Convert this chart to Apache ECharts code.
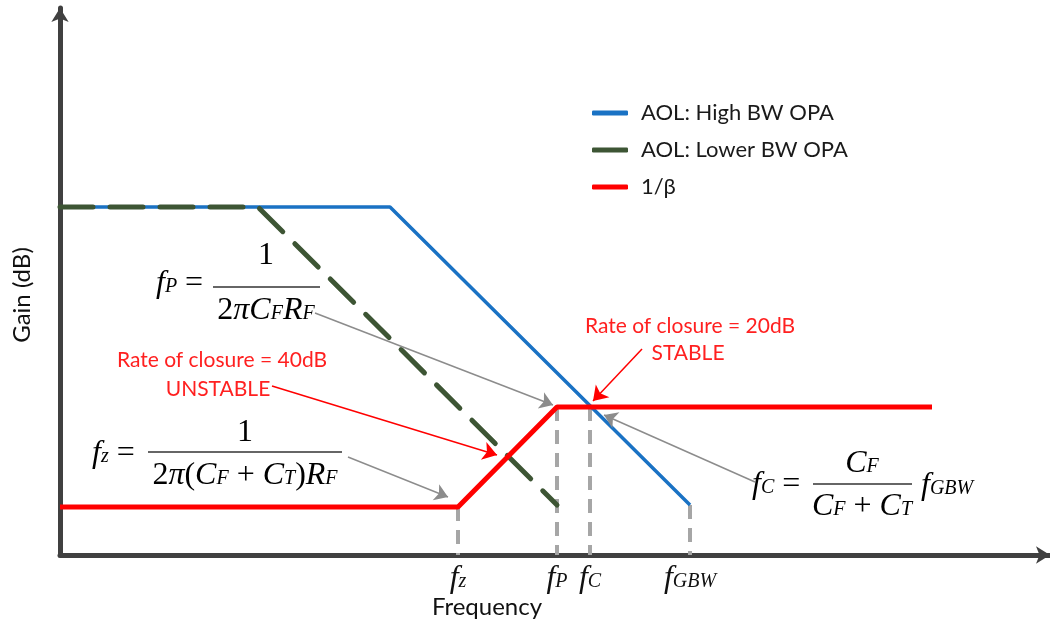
<!DOCTYPE html>
<html>
<head>
<meta charset="utf-8">
<script src="https://cdn.jsdelivr.net/npm/echarts@6/dist/echarts.min.js"></script>
<style>
  html, body { margin: 0; padding: 0; background: #fff; }
  #main { width: 1050px; height: 623px; }
</style>
</head>
<body>
<div id="main"></div>
<script>
// schematic units: x = log frequency, y = gain (origin at the axes corner)
const blueX = [0, 330, 630];
const blueY = [348, 348, 50];
const greenX = [0, 198, 497];
const greenY = [348, 348, 50];
const redX = [0, 398, 497, 872];
const redY = [48, 48, 148, 148];

// frequency marks on the x axis and where their drop lines start
const markX = [398, 497, 530, 630];
const markTop = [48, 148, 148, 50];
const markSub = ['z', 'P', 'C', 'GBW'];

// annotation arrows [x1, y1, x2, y2]
const grayArrows = [
  [255, 242, 493, 150],
  [288, 98, 388, 58],
  [695, 73, 544, 140]
];
const redArrows = [
  [212, 169, 437, 100],
  [582, 206, 533, 154]
];

const pairs = (xs, ys) => xs.map((x, i) => [x, ys[i]]);

const chart = echarts.init(document.getElementById('main'));

const serif = '"Liberation Serif", "DejaVu Serif", serif';
const mathRich = {
  i: { fontFamily: serif, fontStyle: 'italic', fontSize: 32, color: '#111', lineHeight: 34 },
  n: { fontFamily: serif, fontSize: 32, color: '#111', lineHeight: 34 },
  s: { fontFamily: serif, fontStyle: 'italic', fontSize: 20, color: '#111', lineHeight: 34, verticalAlign: 'bottom', padding: [0, 0, 4, 0] }
};

function mathText(x, y, text, align) {
  return {
    type: 'text', x: x, y: y, z: 10,
    style: { text: text, rich: mathRich, align: align || 'left', verticalAlign: 'middle' }
  };
}
function fracLine(x1, x2, y) {
  return { type: 'line', z: 10, shape: { x1: x1, y1: y, x2: x2, y2: y }, style: { stroke: '#333', lineWidth: 1.5 } };
}
function redText(x, y, text) {
  return {
    type: 'text', x: x, y: y, z: 10,
    style: { text: text, fill: '#ff2020', fontFamily: 'Lato', fontSize: 21, align: 'center', verticalAlign: 'middle' }
  };
}

chart.setOption({
  animation: false,
  grid: { left: 60, right: 0, top: 8, bottom: 68 },
  legend: {
    orient: 'vertical',
    left: 587,
    top: 97,
    itemWidth: 36,
    itemHeight: 5,
    itemGap: 15,
    icon: 'roundRect',
    textStyle: { fontFamily: 'Lato', fontSize: 22, color: '#1a1a1a', padding: [0, 0, 0, 8] },
    data: ['AOL: High BW OPA', 'AOL: Lower BW OPA', '1/β']
  },
  xAxis: {
    type: 'value', min: 0, max: 990,
    splitLine: { show: false },
    axisTick: { show: false },
    axisLine: { lineStyle: { color: '#404040', width: 5 }, symbol: ['none', 'arrow'], symbolSize: [13, 14] },
    axisLabel: {
      customValues: markX,
      margin: 7,
      formatter: function (v) {
        const k = markX.indexOf(v);
        return '{i|f}{s|' + markSub[k] + '}';
      },
      rich: mathRich
    }
  },
  yAxis: {
    type: 'value', min: 0, max: 547,
    splitLine: { show: false },
    axisTick: { show: false },
    axisLabel: { show: false },
    axisLine: { lineStyle: { color: '#404040', width: 5 }, symbol: ['none', 'arrow'], symbolSize: [13, 14] }
  },
  series: [
    {
      name: 'AOL: High BW OPA', type: 'line', showSymbol: false, z: 2,
      data: pairs(blueX, blueY),
      itemStyle: { color: '#1a72c4' },
      lineStyle: { color: '#1a72c4', width: 3.5 }
    },
    {
      name: 'AOL: Lower BW OPA', type: 'line', showSymbol: false, z: 3,
      data: pairs(greenX, greenY),
      itemStyle: { color: '#3d5534' },
      lineStyle: { color: '#3d5534', width: 5, type: [33, 17], cap: 'round' }
    },
    {
      name: '1/β', type: 'line', showSymbol: false, z: 4,
      data: pairs(redX, redY),
      itemStyle: { color: '#ff0000' },
      lineStyle: { color: '#ff0000', width: 5 }
    },
    {
      type: 'lines', coordinateSystem: 'cartesian2d', z: 1,
      data: markX.map((x, i) => ({ coords: [[x, markTop[i]], [x, 0]] })),
      lineStyle: { color: '#a6a6a6', width: 4, type: [14, 9], opacity: 1 }
    },
    {
      type: 'lines', coordinateSystem: 'cartesian2d', z: 5,
      symbol: ['none', 'arrow'], symbolSize: 13,
      data: grayArrows.map(a => ({ coords: [[a[0], a[1]], [a[2], a[3]]] })),
      lineStyle: { color: '#8c8c8c', width: 1.5, opacity: 1 }
    },
    {
      type: 'lines', coordinateSystem: 'cartesian2d', z: 5,
      symbol: ['none', 'arrow'], symbolSize: 14,
      data: redArrows.map(a => ({ coords: [[a[0], a[1]], [a[2], a[3]]] })),
      lineStyle: { color: '#ff0000', width: 1.5, opacity: 1 }
    }
  ],
  graphic: [
    // fP formula
    mathText(156, 284, '{i|f}{s|P}{n| =}'),
    mathText(266, 256, '{n|1}', 'center'),
    fracLine(213, 320, 287),
    mathText(266, 311, '{n|2}{i|πC}{s|F}{i|R}{s|F}', 'center'),
    // fz formula
    mathText(92, 454, '{i|f}{s|z}{n| =}'),
    mathText(245, 433, '{n|1}', 'center'),
    fracLine(148, 342, 452),
    mathText(245, 476, '{n|2}{i|π}{n|(}{i|C}{s|F}{n| + }{i|C}{s|T}{n|)}{i|R}{s|F}', 'center'),
    // fC formula
    mathText(752, 485, '{i|f}{s|C}{n| =}'),
    mathText(862, 464, '{i|C}{s|F}', 'center'),
    fracLine(813, 912, 484),
    mathText(862, 507, '{i|C}{s|F}{n| + }{i|C}{s|T}', 'center'),
    mathText(921, 486, '{i|f}{s|GBW}'),
    // rate of closure notes
    redText(222, 360, 'Rate of closure = 40dB'),
    redText(218, 389, 'UNSTABLE'),
    redText(690, 326, 'Rate of closure = 20dB'),
    redText(688, 353, 'STABLE'),
    // axis titles
    {
      type: 'text', x: 22, y: 295, rotation: Math.PI / 2,
      style: { text: 'Gain (dB)', fontFamily: 'Lato', fontSize: 24, fill: '#111', align: 'center', verticalAlign: 'middle' }
    },
    {
      type: 'text', x: 487, y: 607,
      style: { text: 'Frequency', fontFamily: 'Lato', fontSize: 24, fill: '#111', align: 'center', verticalAlign: 'middle' }
    }
  ]
});
</script>
</body>
</html>
